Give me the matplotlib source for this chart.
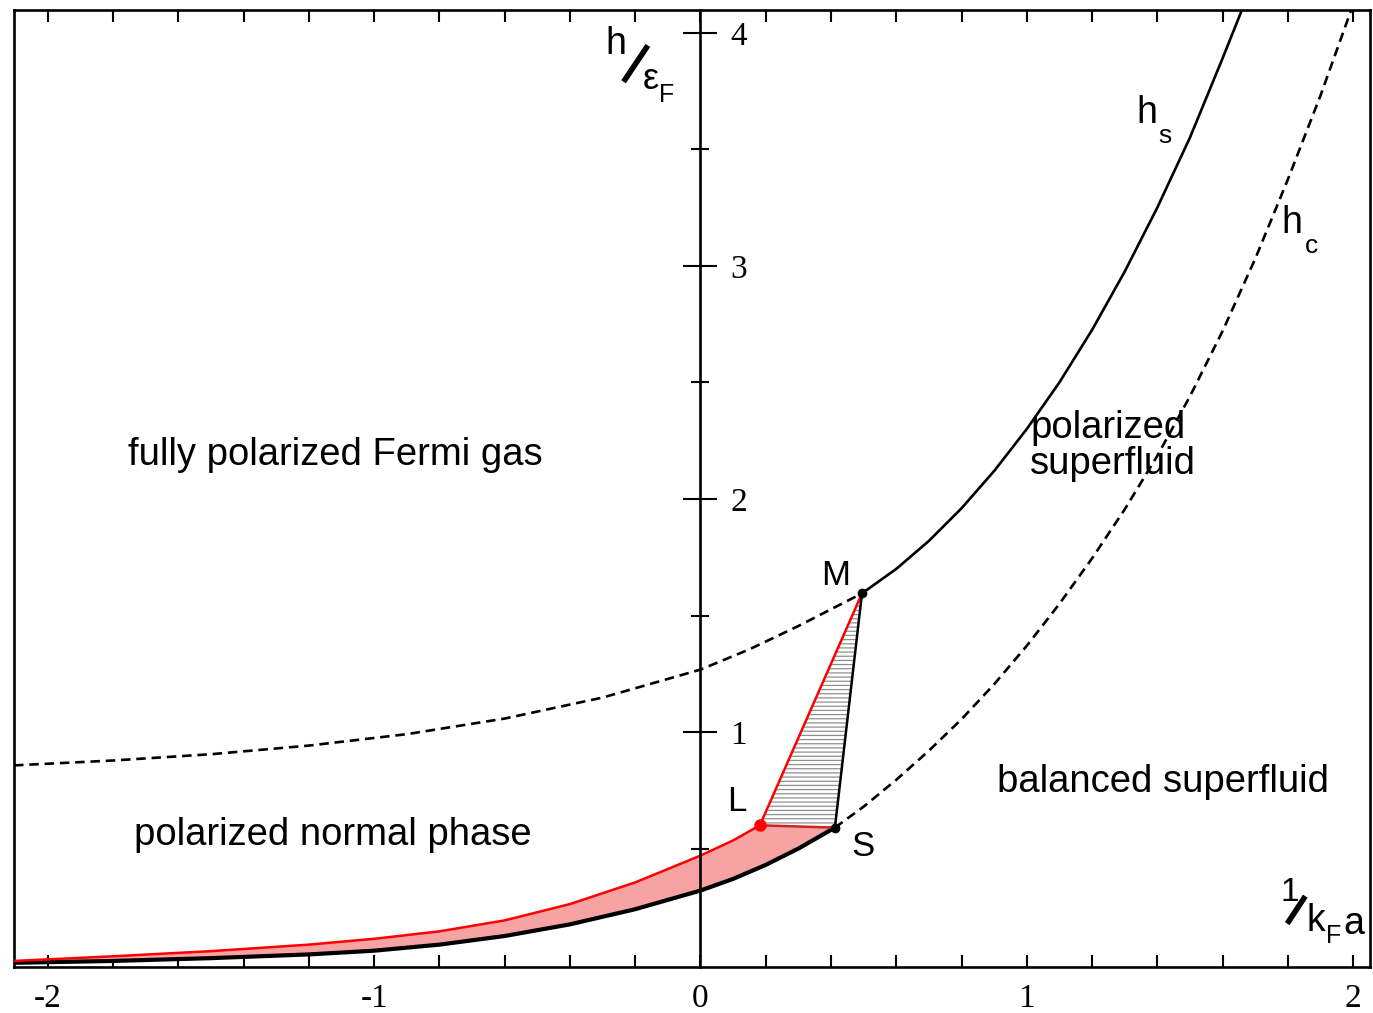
import numpy as np
import matplotlib
matplotlib.use('Agg')
from matplotlib import pyplot as plt
from matplotlib.ticker import MultipleLocator, FixedLocator

plt.rcParams['font.family'] = ['Liberation Sans', 'DejaVu Sans']
plt.rcParams['hatch.linewidth'] = 0.9

# h_s continued below M (dashed part)
hs_dash_x = [-2.104, -1.8, -1.5, -1.2, -0.9, -0.6, -0.3, 0.0, 0.15, 0.3, 0.495]
hs_dash_y = [0.857, 0.878, 0.905, 0.942, 0.991, 1.058, 1.148, 1.268, 1.355, 1.455, 1.595]

# h_s solid part above M
hs_x = [0.495, 0.6, 0.7, 0.8, 0.9, 1.0, 1.1, 1.2, 1.3, 1.4, 1.5, 1.6, 1.66]
hs_y = [1.595, 1.70, 1.82, 1.96, 2.12, 2.30, 2.50, 2.725, 2.975, 3.25, 3.55, 3.89, 4.10]

# h_c dashed line from S
hc_x = [0.412, 0.5, 0.6, 0.7, 0.8, 0.9, 1.0, 1.1, 1.2, 1.3, 1.4, 1.5, 1.6, 1.7, 1.8, 1.9, 2.0]
hc_y = [0.590, 0.68, 0.795, 0.92, 1.055, 1.205, 1.37, 1.55, 1.745, 1.955, 2.185, 2.44,
        2.72, 3.03, 3.37, 3.73, 4.12]

# lower border of the coexistence band (black)
low_x = [-2.104, -1.8, -1.5, -1.2, -1.0, -0.8, -0.6, -0.4, -0.2, 0.0, 0.1, 0.2, 0.3, 0.412]
low_y = [0.010, 0.018, 0.030, 0.046, 0.062, 0.088, 0.125, 0.175, 0.24, 0.32, 0.37, 0.43,
         0.50, 0.590]

# upper border (red)
up_x = [-2.104, -1.8, -1.5, -1.2, -1.0, -0.8, -0.6, -0.4, -0.2, 0.0, 0.1, 0.182]
up_y = [0.018, 0.038, 0.060, 0.088, 0.113, 0.145, 0.192, 0.262, 0.355, 0.47, 0.535, 0.600]

# special points
pt_L = (0.182, 0.600)
pt_M = (0.495, 1.595)
pt_S = (0.412, 0.590)

x_ticks = [-2, -1, 0, 1, 2]
y_ticks = [1, 2, 3, 4]


def main():
    fig = plt.figure(figsize=(13.73, 10.13), dpi=100)
    ax = fig.add_axes([14 / 1373, 46 / 1013, (1370 - 14) / 1373, (967 - 10) / 1013])
    ax.set_xlim(-2.104, 2.052)
    ax.set_ylim(-0.008, 4.098)

    for sp in ax.spines.values():
        sp.set_linewidth(1.9)

    # x ticks on bottom and top, pointing in
    ax.xaxis.set_major_locator(FixedLocator(x_ticks))
    ax.xaxis.set_minor_locator(MultipleLocator(0.2))
    ax.tick_params(axis='x', which='both', direction='in', length=8.5, width=1.5,
                   top=True, bottom=True, labeltop=False, pad=12)
    ax.set_xticklabels([str(t) for t in x_ticks], family='Liberation Serif', fontsize=24)
    ax.set_yticks([])

    # y axis drawn through x = 0
    ax2 = ax.twinx()
    ax2.set_ylim(ax.get_ylim())
    for name in ['top', 'bottom', 'left']:
        ax2.spines[name].set_visible(False)
    ax2.spines['right'].set_position(('data', 0))
    ax2.spines['right'].set_linewidth(1.9)
    ax2.yaxis.set_major_locator(FixedLocator(y_ticks))
    ax2.yaxis.set_minor_locator(FixedLocator([0.5, 1.5, 2.5, 3.5]))
    ax2.tick_params(axis='y', which='major', direction='inout', length=25, width=1.5, pad=9)
    ax2.tick_params(axis='y', which='minor', direction='inout', length=13, width=1.5)
    ax2.set_yticklabels([str(t) for t in y_ticks], family='Liberation Serif', fontsize=24)

    # coexistence band
    band_x = up_x + [pt_S[0]] + low_x[::-1]
    band_y = up_y + [pt_S[1]] + low_y[::-1]
    ax.fill(band_x, band_y, color='#f7a3a3', lw=0, zorder=2)
    ax.fill([pt_L[0], pt_M[0], pt_S[0]], [pt_L[1], pt_M[1], pt_S[1]],
            facecolor='none', edgecolor='#909090', hatch='----', lw=0, zorder=2)

    ax.plot(low_x, low_y, color='black', lw=3.0, zorder=3, solid_capstyle='round')
    ax.plot(up_x, up_y, color='red', lw=1.8, zorder=4)
    ax.plot([pt_L[0], pt_M[0]], [pt_L[1], pt_M[1]], color='red', lw=1.8, zorder=4)
    ax.plot([pt_L[0], pt_S[0]], [pt_L[1], pt_S[1]], color='#d02020', lw=1.8, zorder=4)
    ax.plot([pt_M[0], pt_S[0]], [pt_M[1], pt_S[1]], color='black', lw=1.8, zorder=4)

    ax.plot(hs_dash_x, hs_dash_y, color='black', lw=1.9, dashes=(3.6, 2.2), zorder=3)
    ax.plot(hs_x, hs_y, color='black', lw=1.9, zorder=3)
    ax.plot(hc_x, hc_y, color='black', lw=1.9, dashes=(3.6, 2.2), zorder=3)

    ax.plot(*pt_L, 'o', color='red', ms=8, zorder=5)
    ax.plot(*pt_M, 'o', color='black', ms=6, zorder=5)
    ax.plot(*pt_S, 'o', color='black', ms=6, zorder=5)

    # region labels
    fs = 27.5
    ax.text(-1.12, 2.188, 'fully polarized Fermi gas', fontsize=fs, ha='center', va='center')
    ax.text(-1.126, 0.56, 'polarized normal phase', fontsize=fs, ha='center', va='center')
    ax.text(1.418, 0.786, 'balanced superfluid', fontsize=fs, ha='center', va='center')
    ax.text(1.01, 2.226, 'polarized\nsuperfluid', fontsize=fs, ha='left', va='center',
            linespacing=1.0)
    ax.text(0.415, 1.671, 'M', fontsize=25, ha='center', va='center')
    ax.text(0.112, 0.70, 'L', fontsize=25, ha='center', va='center')
    ax.text(0.498, 0.509, 'S', fontsize=25, ha='center', va='center')

    ax.text(1.369, 3.654, 'h', fontsize=27, ha='center', va='center')
    ax.text(1.424, 3.556, 's', fontsize=19, ha='center', va='center')
    ax.text(1.813, 3.184, 'h', fontsize=27, ha='center', va='center')
    ax.text(1.872, 3.085, 'c', fontsize=19, ha='center', va='center')

    # axis names
    ax.text(-0.258, 3.95, 'h', fontsize=27, ha='center', va='center')
    ax.plot([-0.231, -0.166], [3.80, 3.936], color='black', lw=4, clip_on=False)
    ax.text(-0.151, 3.80, '\u03b5', fontsize=26, ha='center', va='center')
    ax.text(-0.103, 3.735, 'F', fontsize=18, ha='center', va='center')

    ax.text(1.806, 0.312, '1', fontsize=24, ha='center', va='center')
    ax.plot([1.803, 1.849], [0.188, 0.286], color='black', lw=4, clip_on=False)
    ax.text(1.886, 0.188, 'k', fontsize=27, ha='center', va='center')
    ax.text(1.942, 0.124, 'F', fontsize=18, ha='center', va='center')
    ax.text(2.003, 0.175, 'a', fontsize=27, ha='center', va='center')

    fig.savefig('out.png', dpi=100)


if __name__ == '__main__':
    main()
